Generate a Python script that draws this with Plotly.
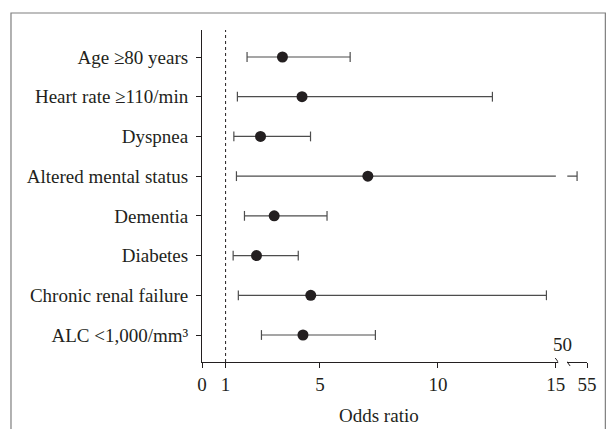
import plotly.graph_objects as go

# ---- data ----
labels = ["Age \u226580 years", "Heart rate \u2265110/min", "Dyspnea", "Altered mental status",
          "Dementia", "Diabetes", "Chronic renal failure", "ALC <1,000/mm\u00b3"]
odds_ratio = [3.41, 4.24, 2.48, 7.03, 3.06, 2.31, 4.61, 4.28]
ci_low = [1.91, 1.50, 1.35, 1.46, 1.80, 1.32, 1.54, 2.52]
ci_high = [6.28, 12.31, 4.60, 52.5, 5.30, 4.08, 14.60, 7.35]
x_ticks_main = [0, 1, 5, 10, 15]
x_ticks_upper = [55]
break_label = "50"

# axis break configuration
MAIN_MAX = 15.0      # last value drawn on the main segment
UPPER_MIN = 50.0     # first value of the upper segment
UPPER_MAX = 55.0

FONT = "Liberation Serif"
FS = 19
INK = "#231f20"
LINE = "#4d4d4d"

rows = list(range(1, len(labels) + 1))

# build CI segments, splitting those that cross the axis break
seg1_x, seg1_y, seg2_x, seg2_y = [], [], [], []
cap1_x, cap1_y, cap2_x, cap2_y = [], [], [], []
for r, lo, hi in zip(rows, ci_low, ci_high):
    if hi > MAIN_MAX:
        seg1_x += [lo, MAIN_MAX, None]; seg1_y += [r, r, None]
        cap1_x += [lo]; cap1_y += [r]
        seg2_x += [UPPER_MIN, hi, None]; seg2_y += [r, r, None]
        cap2_x += [hi]; cap2_y += [r]
    else:
        seg1_x += [lo, hi, None]; seg1_y += [r, r, None]
        cap1_x += [lo, hi]; cap1_y += [r, r]

cap_marker = dict(symbol="line-ns-open", size=7, color=LINE, line=dict(color=LINE, width=1.2))

fig = go.Figure()
fig.add_trace(go.Scatter(x=seg1_x, y=seg1_y, mode="lines", xaxis="x", yaxis="y",
                         line=dict(color=LINE, width=1.2), hoverinfo="skip", cliponaxis=False))
fig.add_trace(go.Scatter(x=cap1_x, y=cap1_y, mode="markers", xaxis="x", yaxis="y",
                         marker=cap_marker, hoverinfo="skip", cliponaxis=False))
fig.add_trace(go.Scatter(x=seg2_x, y=seg2_y, mode="lines", xaxis="x2", yaxis="y",
                         line=dict(color=LINE, width=1.2), hoverinfo="skip", cliponaxis=False))
fig.add_trace(go.Scatter(x=cap2_x, y=cap2_y, mode="markers", xaxis="x2", yaxis="y",
                         marker=cap_marker, hoverinfo="skip", cliponaxis=False))
fig.add_trace(go.Scatter(x=odds_ratio, y=rows, mode="markers", xaxis="x", yaxis="y",
                         marker=dict(symbol="circle", size=11, color=INK), cliponaxis=False))

W, H = 609, 429
L, R, T, B = 202, 19, 30, 67
pw = W - L - R
ph = H - T - B
d1_end = (561 - L) / pw
d2_start = (570 - L) / pw

axis_common = dict(showgrid=False, zeroline=False, showline=True, linecolor=INK, linewidth=1,
                   ticks="outside", ticklen=5, tickwidth=1, tickcolor=INK,
                   tickfont=dict(family=FONT, size=FS, color=INK))

fig.update_layout(
    width=W, height=H,
    margin=dict(l=L, r=R, t=T, b=B),
    paper_bgcolor="white", plot_bgcolor="white",
    showlegend=False,
    xaxis=dict(domain=[0, d1_end], range=[0, 15.1], tickvals=x_ticks_main, anchor="y", **axis_common),
    xaxis2=dict(domain=[d2_start, 1], range=[UPPER_MIN, UPPER_MAX], tickvals=x_ticks_upper,
                anchor="y", **axis_common),
    yaxis=dict(range=[len(labels) + 0.68, 0.32], tickvals=rows, ticktext=labels, anchor="x",
               ticklabelstandoff=4, **axis_common),
    font=dict(family=FONT, color=INK),
)

shapes = [
    # reference line at OR = 1
    dict(type="line", xref="x", yref="paper", x0=1, x1=1, y0=0, y1=1,
         line=dict(color=INK, width=1, dash="dot")),
    # break marks
    dict(type="line", xref="x", yref="paper", xsizemode="pixel", ysizemode="pixel",
         xanchor=15.1, yanchor=0, x0=-3, x1=3, y0=4, y1=-4, line=dict(color=INK, width=1)),
    dict(type="line", xref="x2", yref="paper", xsizemode="pixel", ysizemode="pixel",
         xanchor=UPPER_MIN, yanchor=0, x0=-3, x1=3, y0=4, y1=-4, line=dict(color=INK, width=1)),
    # outer frame
    dict(type="rect", xref="paper", yref="paper",
         x0=(9.5 - L) / pw, x1=(608.5 - L) / pw,
         y0=-(440 - (H - B)) / ph, y1=((H - B) - 13) / ph,
         line=dict(color="#7f7f7f", width=1.2), fillcolor="rgba(0,0,0,0)", layer="below"),
]
fig.update_layout(shapes=shapes)

fig.add_annotation(text=break_label, xref="x2", yref="paper", x=UPPER_MIN, y=0,
                   xanchor="center", yanchor="middle", xshift=-5, yshift=18, showarrow=False,
                   font=dict(family=FONT, size=FS, color=INK))
fig.add_annotation(text="Odds ratio", xref="paper", yref="paper", x=(380 - L) / pw, y=0,
                   xanchor="center", yanchor="middle", yshift=-53, showarrow=False,
                   font=dict(family=FONT, size=FS, color=INK))

fig.write_html("out.html", config={"displayModeBar": False},
               post_script="document.body.style.margin='0';document.body.style.overflow='hidden';")
